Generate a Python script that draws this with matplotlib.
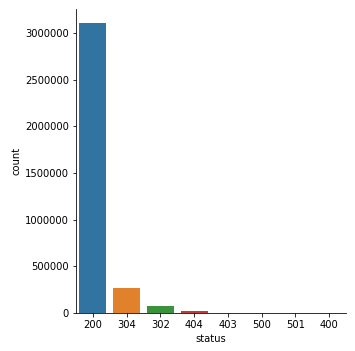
import matplotlib
matplotlib.use('Agg')
import matplotlib.pyplot as plt
import seaborn as sns
import numpy as np

status = ['200', '304', '302', '404', '403', '500', '501', '400']
counts = [3105000, 271000, 78000, 21000, 1500, 300, 60, 10]

colors = [sns.desaturate(c, 0.75) for c in sns.color_palette('tab10', len(status))]

fig = plt.figure(figsize=(355/72, 351/72), dpi=72)
ax = fig.add_axes([76/355, 38/351, 270/355, 304/351])
x = np.arange(len(status))
ax.bar(x, counts, width=0.8, color=colors)
ax.set_xticks(x)
ax.set_xticklabels(status)
ax.set_xlim(-0.5, len(status) - 0.5)
ax.set_ylim(0, 3260000)
ax.ticklabel_format(axis='y', style='plain')
ax.set_xlabel('status')
ax.set_ylabel('count')
sns.despine(ax=ax)
fig.savefig('out.png', dpi=72)
